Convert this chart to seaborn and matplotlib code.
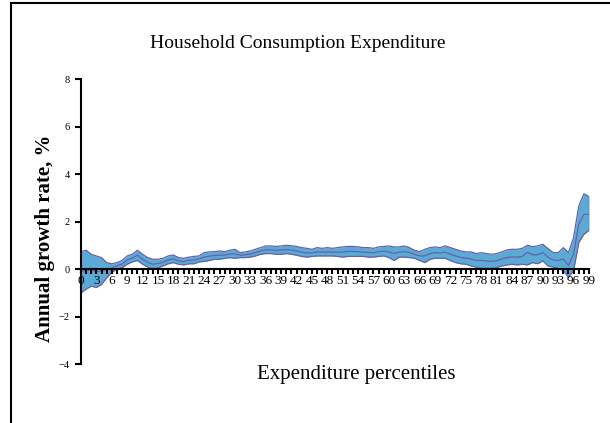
import numpy as np
import pandas as pd
import matplotlib
matplotlib.use('Agg')
import matplotlib.pyplot as plt
import seaborn as sns
from matplotlib.patches import Rectangle
from matplotlib.ticker import MultipleLocator

# percentiles 0..99
percentiles = list(range(100))

upper = [0.73, 0.79, 0.62, 0.55, 0.48, 0.27, 0.22, 0.27, 0.36, 0.55,
         0.62, 0.79, 0.62, 0.48, 0.41, 0.41, 0.45, 0.55, 0.59, 0.48,
         0.45, 0.50, 0.53, 0.55, 0.69, 0.72, 0.73, 0.76, 0.73, 0.79,
         0.83, 0.69, 0.72, 0.76, 0.83, 0.90, 0.97, 0.97, 0.95, 0.97,
         1.00, 0.98, 0.95, 0.90, 0.87, 0.83, 0.90, 0.87, 0.90, 0.87,
         0.90, 0.93, 0.95, 0.95, 0.93, 0.90, 0.90, 0.87, 0.93, 0.95,
         0.97, 0.93, 0.93, 0.97, 0.90, 0.79, 0.73, 0.83, 0.90, 0.93,
         0.90, 0.97, 0.90, 0.83, 0.76, 0.72, 0.72, 0.65, 0.69, 0.65,
         0.62, 0.65, 0.72, 0.80, 0.83, 0.83, 0.87, 1.00, 0.94, 0.97,
         1.04, 0.86, 0.69, 0.69, 0.90, 0.69, 1.32, 2.65, 3.17, 3.05]

lower = [-1.00, -0.85, -0.72, -0.78, -0.65, -0.37, -0.15, 0.00, 0.05, 0.20,
         0.30, 0.36, 0.20, 0.08, 0.00, 0.05, 0.13, 0.22, 0.27, 0.20,
         0.17, 0.22, 0.22, 0.30, 0.32, 0.36, 0.41, 0.41, 0.45, 0.48,
         0.45, 0.48, 0.48, 0.50, 0.55, 0.62, 0.65, 0.65, 0.62, 0.62,
         0.65, 0.62, 0.58, 0.53, 0.50, 0.53, 0.55, 0.55, 0.55, 0.55,
         0.53, 0.50, 0.53, 0.53, 0.53, 0.53, 0.50, 0.50, 0.53, 0.55,
         0.48, 0.36, 0.50, 0.50, 0.48, 0.45, 0.36, 0.27, 0.41, 0.45,
         0.45, 0.45, 0.35, 0.27, 0.22, 0.20, 0.13, 0.08, 0.03, 0.03,
         0.03, 0.06, 0.13, 0.17, 0.20, 0.17, 0.20, 0.17, 0.27, 0.22,
         0.34, 0.13, 0.08, 0.03, -0.06, -0.36, -0.06, 1.11, 1.46, 1.63]

growth = [-0.13, -0.03, -0.05, -0.12, -0.08, -0.05, 0.04, 0.14, 0.20, 0.38,
          0.46, 0.58, 0.41, 0.28, 0.20, 0.23, 0.29, 0.38, 0.43, 0.34,
          0.31, 0.36, 0.38, 0.42, 0.50, 0.54, 0.57, 0.58, 0.59, 0.63,
          0.64, 0.58, 0.60, 0.63, 0.69, 0.76, 0.81, 0.81, 0.78, 0.80,
          0.82, 0.80, 0.76, 0.71, 0.68, 0.68, 0.72, 0.71, 0.72, 0.71,
          0.71, 0.71, 0.74, 0.74, 0.73, 0.71, 0.70, 0.68, 0.73, 0.75,
          0.72, 0.65, 0.71, 0.73, 0.69, 0.62, 0.55, 0.55, 0.65, 0.69,
          0.67, 0.71, 0.62, 0.55, 0.49, 0.46, 0.42, 0.36, 0.36, 0.34,
          0.32, 0.35, 0.42, 0.48, 0.51, 0.50, 0.53, 0.70, 0.60, 0.60,
          0.69, 0.50, 0.38, 0.36, 0.42, 0.15, 0.63, 1.88, 2.30, 2.30]

df = pd.DataFrame({'pct': percentiles, 'upper': upper, 'lower': lower, 'growth': growth})

sns.set_style('white')
plt.rcParams['font.family'] = ['Liberation Serif', 'DejaVu Serif']
plt.rcParams['text.color'] = 'black'
plt.rcParams['xtick.color'] = 'black'
plt.rcParams['ytick.color'] = 'black'
plt.rcParams['axes.labelcolor'] = 'black'

fig = plt.figure(figsize=(6.1, 4.23), dpi=100)
ax = fig.add_axes([81 / 610, 1 - 364 / 423, 508 / 610, 285 / 423])

band_color = '#5BAAD6'
line_color = '#6662AA'
ax.fill_between(df['pct'], df['lower'], df['upper'], color=band_color, linewidth=0, zorder=1)
sns.lineplot(data=df, x='pct', y='upper', ax=ax, color=line_color, linewidth=0.9, zorder=2)
sns.lineplot(data=df, x='pct', y='lower', ax=ax, color=line_color, linewidth=0.9, zorder=2)
sns.lineplot(data=df, x='pct', y='growth', ax=ax, color=line_color, linewidth=0.9, zorder=2)
ax.vlines(99, lower[-1], upper[-1], color=line_color, linewidth=0.9)

ax.set_xlim(0, 99)
ax.set_ylim(-4, 8)
ax.set_yticks([-4, -2, 0, 2, 4, 6, 8])
ax.xaxis.set_major_locator(MultipleLocator(3))
ax.xaxis.set_minor_locator(MultipleLocator(1))
ax.set_axisbelow(False)

for s in ['top', 'right']:
    ax.spines[s].set_visible(False)
ax.spines['bottom'].set_position(('data', 0))
ax.spines['left'].set_linewidth(1.5)
ax.spines['bottom'].set_linewidth(1.5)
ax.spines['left'].set_color('black')
ax.spines['bottom'].set_color('black')
ax.spines['bottom'].set_zorder(5)

ax.tick_params(axis='y', direction='out', length=4, width=1.5, labelsize=7.5, pad=4, left=True)
ax.tick_params(axis='x', which='both', direction='out', length=3.5, width=1.5, labelsize=9.5, pad=1, bottom=True)
ax.set_xlabel('')
ax.set_ylabel('')

fig.text(298 / 610, 1 - 44 / 423, 'Household Consumption Expenditure', ha='center', va='center', fontsize=14)
fig.text(356 / 610, 1 - 374 / 423, 'Expenditure percentiles', ha='center', va='center', fontsize=15)
fig.text(45 / 610, 1 - 238 / 423, 'Annual growth rate, %', ha='center', va='center', rotation=90,
         fontsize=15, fontweight='bold')

# outer frame
fig.patches.append(Rectangle((11 / 610, -0.1), 1.2, (1 - 3 / 423) + 0.1, transform=fig.transFigure,
                             fill=False, edgecolor='black', linewidth=1.5))

fig.savefig('out.png', dpi=100)
